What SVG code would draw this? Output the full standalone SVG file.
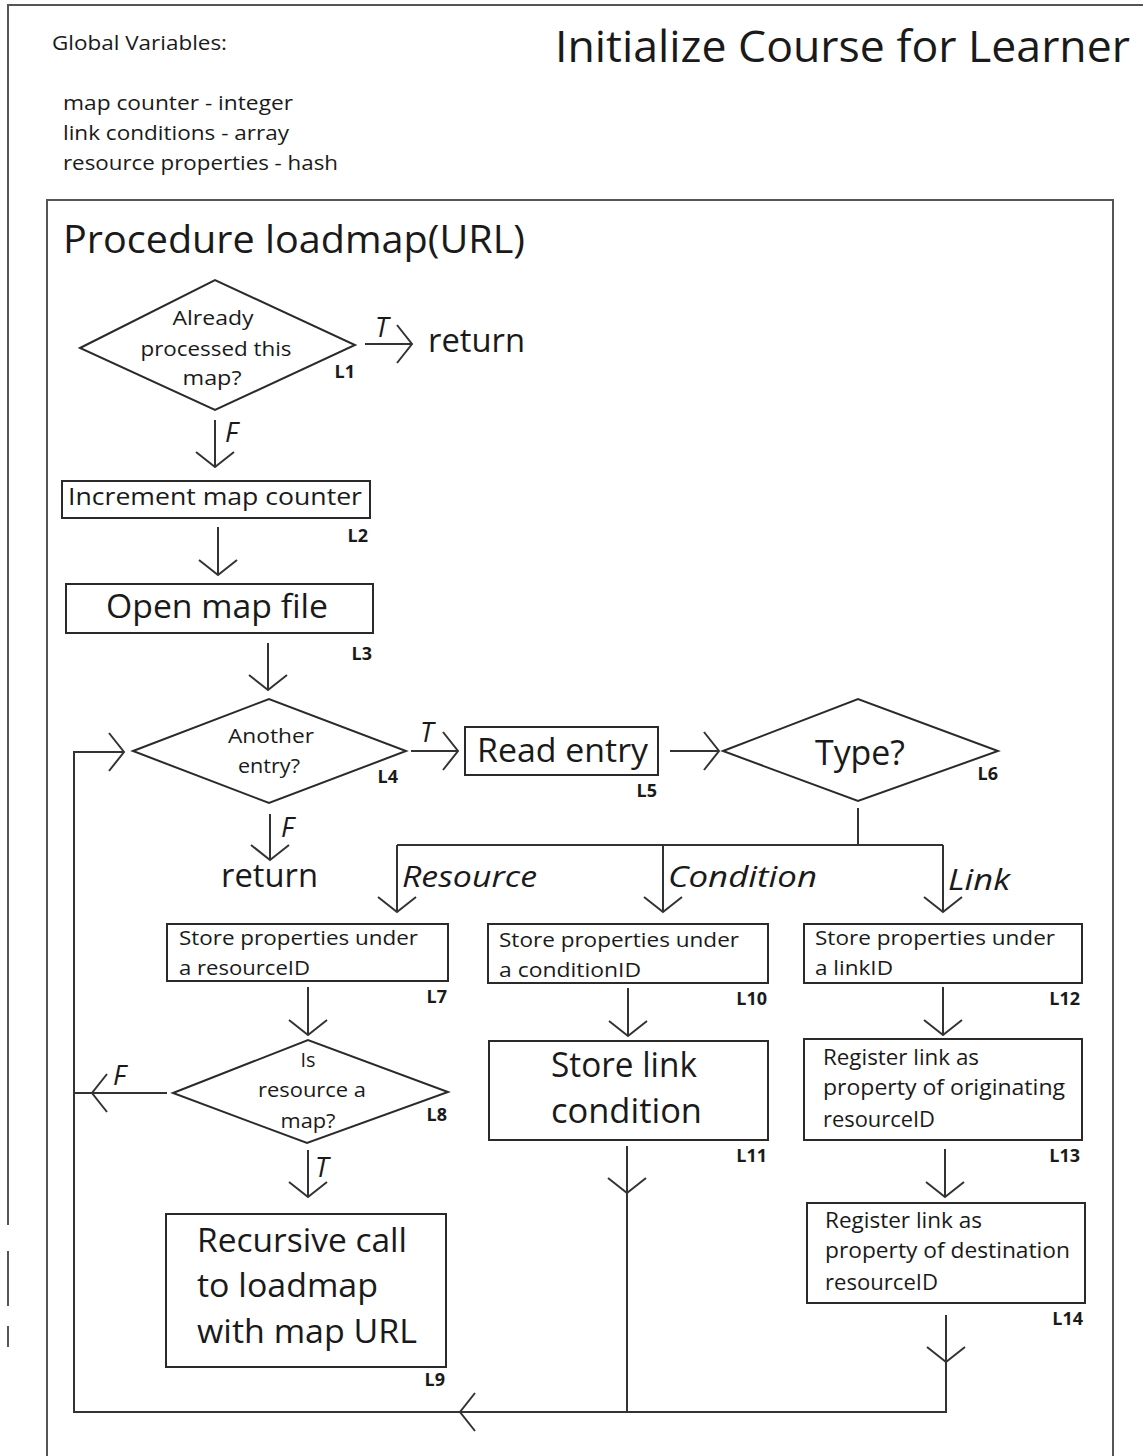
<svg xmlns="http://www.w3.org/2000/svg" width="1143" height="1456" viewBox="0 0 1143 1456">
<style>
text{font-family:"Open Sans","Noto Sans","DejaVu Sans",sans-serif;fill:#1a1a1a}
.shape{fill:none;stroke:#2a2a2a;stroke-width:2}
.frame{fill:none;stroke:#555;stroke-width:2}
.conn{fill:none;stroke:#333;stroke-width:2}
.t20{font-size:20px}
.t22{font-size:22px}
.t24{font-size:24px}
.t32{font-size:32px}
.t34{font-size:34px}
.it{font-style:italic;font-size:30px}
.lab{font-style:italic;font-size:27px}
.ln{font-size:18px;font-weight:bold;text-anchor:end}
.mid{text-anchor:middle}
</style>
<defs>
<marker id="arr" markerUnits="userSpaceOnUse" markerWidth="40" markerHeight="44" viewBox="-20 -22 40 44" refX="0" refY="0" orient="auto" overflow="visible">
<path d="M-15,-19 L0,0 L-15,19" fill="none" stroke="#333" stroke-width="2"/>
</marker>
</defs>
<rect width="1143" height="1456" fill="#fff"/>
<g id="frames">
<path class="frame" d="M1143,5 H8 V1225"/>
<path class="frame" d="M8,1251 V1306 M8,1326 V1347"/>
<path class="frame" d="M47,1456 V200 H1113 V1456"/>
</g>
<g id="header">
<text x="555" y="62" style="font-size:44px" textLength="575" lengthAdjust="spacingAndGlyphs">Initialize Course for Learner</text>
<text x="52" y="50" class="t20" textLength="175" lengthAdjust="spacingAndGlyphs">Global Variables:</text>
<text x="63" y="110" class="t20" textLength="230" lengthAdjust="spacingAndGlyphs">map counter - integer</text>
<text x="63" y="140" class="t20" textLength="226" lengthAdjust="spacingAndGlyphs">link conditions - array</text>
<text x="63" y="170" class="t20" textLength="275" lengthAdjust="spacingAndGlyphs">resource properties - hash</text>
<text x="63" y="253" style="font-size:38px" textLength="462" lengthAdjust="spacingAndGlyphs">Procedure loadmap(URL)</text>
</g>
<g id="connectors">
<path class="conn" d="M365,344 H412" marker-end="url(#arr)"/>
<path class="conn" d="M215,420 V467" marker-end="url(#arr)"/>
<path class="conn" d="M218,527 V575" marker-end="url(#arr)"/>
<path class="conn" d="M268,643 V690" marker-end="url(#arr)"/>
<path class="conn" d="M411,751 H458" marker-end="url(#arr)"/>
<path class="conn" d="M270,814 V860" marker-end="url(#arr)"/>
<path class="conn" d="M670,751 H719" marker-end="url(#arr)"/>
<path class="conn" d="M858,808 V845 M397,845 H943"/>
<path class="conn" d="M397,845 V912" marker-end="url(#arr)"/>
<path class="conn" d="M663,845 V912" marker-end="url(#arr)"/>
<path class="conn" d="M943,845 V912" marker-end="url(#arr)"/>
<path class="conn" d="M308,987 V1035" marker-end="url(#arr)"/>
<path class="conn" d="M167,1093 H92" marker-end="url(#arr)"/>
<path class="conn" d="M92,1093 H74"/>
<path class="conn" d="M308,1150 V1197" marker-end="url(#arr)"/>
<path class="conn" d="M628,988 V1036" marker-end="url(#arr)"/>
<path class="conn" d="M943,987 V1035" marker-end="url(#arr)"/>
<path class="conn" d="M945,1149 V1197" marker-end="url(#arr)"/>
<path class="conn" d="M627,1146 V1193" marker-end="url(#arr)"/>
<path class="conn" d="M627,1193 V1412"/>
<path class="conn" d="M946,1315 V1362" marker-end="url(#arr)"/>
<path class="conn" d="M946,1362 V1412 H460" marker-end="url(#arr)"/>
<path class="conn" d="M460,1412 H74 V752 H124" marker-end="url(#arr)"/>
<text x="375" y="337" class="lab">T</text>
<text x="225" y="442" class="lab">F</text>
<text x="420" y="742" class="lab">T</text>
<text x="281" y="837" class="lab">F</text>
<text x="113" y="1085" class="lab">F</text>
<text x="315" y="1177" class="lab">T</text>
<text x="428" y="352" class="t32" textLength="97" lengthAdjust="spacingAndGlyphs">return</text>
<text x="221" y="887" class="t32" textLength="97" lengthAdjust="spacingAndGlyphs">return</text>
<text x="402" y="887" class="it" textLength="135" lengthAdjust="spacingAndGlyphs">Resource</text>
<text x="668" y="887" class="it" textLength="149" lengthAdjust="spacingAndGlyphs">Condition</text>
<text x="948" y="890" class="it" textLength="62" lengthAdjust="spacingAndGlyphs">Link</text>
</g>
<g id="L1">
<polygon class="shape" points="80,348 215,280 355,345 215,410"/>
<text x="213" y="325" class="t20 mid" textLength="81" lengthAdjust="spacingAndGlyphs">Already</text>
<text x="216" y="356" class="t20 mid" textLength="151" lengthAdjust="spacingAndGlyphs">processed this</text>
<text x="212" y="385" class="t20 mid" textLength="59" lengthAdjust="spacingAndGlyphs">map?</text>
<text x="355" y="378" class="ln">L1</text>
</g>
<g id="L2">
<rect class="shape" x="62" y="481" width="308" height="37"/>
<text x="68" y="505" class="t24" textLength="294" lengthAdjust="spacingAndGlyphs">Increment map counter</text>
<text x="368" y="542" class="ln">L2</text>
</g>
<g id="L3">
<rect class="shape" x="66" y="584" width="307" height="49"/>
<text x="106" y="618" class="t32" textLength="222" lengthAdjust="spacingAndGlyphs">Open map file</text>
<text x="372" y="660" class="ln">L3</text>
</g>
<g id="L4">
<polygon class="shape" points="133,751 269,699 406,751 269,803"/>
<text x="271" y="743" class="t20 mid" textLength="86" lengthAdjust="spacingAndGlyphs">Another</text>
<text x="269" y="773" class="t20 mid" textLength="62" lengthAdjust="spacingAndGlyphs">entry?</text>
<text x="398" y="783" class="ln">L4</text>
</g>
<g id="L5">
<rect class="shape" x="465" y="727" width="193" height="48"/>
<text x="477" y="762" class="t32" textLength="171" lengthAdjust="spacingAndGlyphs">Read entry</text>
<text x="657" y="797" class="ln">L5</text>
</g>
<g id="L6">
<polygon class="shape" points="723,751 858,699 998,751 858,801"/>
<text x="815" y="765" class="t34" textLength="90" lengthAdjust="spacingAndGlyphs">Type?</text>
<text x="998" y="780" class="ln">L6</text>
</g>
<g id="L7">
<rect class="shape" x="167" y="924" width="281" height="57"/>
<text x="179" y="945" class="t20" textLength="239" lengthAdjust="spacingAndGlyphs">Store properties under</text>
<text x="179" y="975" class="t20" textLength="131" lengthAdjust="spacingAndGlyphs">a resourceID</text>
<text x="447" y="1003" class="ln">L7</text>
</g>
<g id="L8">
<polygon class="shape" points="173,1093 308,1040 448,1092 307,1143"/>
<text x="308" y="1067" class="t20 mid" textLength="15" lengthAdjust="spacingAndGlyphs">Is</text>
<text x="312" y="1097" class="t20 mid" textLength="108" lengthAdjust="spacingAndGlyphs">resource a</text>
<text x="308" y="1128" class="t20 mid" textLength="55" lengthAdjust="spacingAndGlyphs">map?</text>
<text x="447" y="1121" class="ln">L8</text>
</g>
<g id="L9">
<rect class="shape" x="166" y="1214" width="280" height="153"/>
<text x="197" y="1252" class="t32" textLength="210" lengthAdjust="spacingAndGlyphs">Recursive call</text>
<text x="197" y="1297" class="t32" textLength="181" lengthAdjust="spacingAndGlyphs">to loadmap</text>
<text x="197" y="1343" class="t32" textLength="220" lengthAdjust="spacingAndGlyphs">with map URL</text>
<text x="445" y="1386" class="ln">L9</text>
</g>
<g id="L10">
<rect class="shape" x="488" y="924" width="280" height="59"/>
<text x="499" y="947" class="t20" textLength="240" lengthAdjust="spacingAndGlyphs">Store properties under</text>
<text x="499" y="977" class="t20" textLength="142" lengthAdjust="spacingAndGlyphs">a conditionID</text>
<text x="767" y="1005" class="ln">L10</text>
</g>
<g id="L11">
<rect class="shape" x="489" y="1041" width="279" height="99"/>
<text x="551" y="1077" class="t34" textLength="146" lengthAdjust="spacingAndGlyphs">Store link</text>
<text x="551" y="1123" class="t34" textLength="151" lengthAdjust="spacingAndGlyphs">condition</text>
<text x="767" y="1162" class="ln">L11</text>
</g>
<g id="L12">
<rect class="shape" x="804" y="924" width="278" height="59"/>
<text x="815" y="945" class="t20" textLength="240" lengthAdjust="spacingAndGlyphs">Store properties under</text>
<text x="815" y="975" class="t20" textLength="78" lengthAdjust="spacingAndGlyphs">a linkID</text>
<text x="1080" y="1005" class="ln">L12</text>
</g>
<g id="L13">
<rect class="shape" x="804" y="1039" width="278" height="101"/>
<text x="823" y="1065" class="t22" textLength="156" lengthAdjust="spacingAndGlyphs">Register link as</text>
<text x="823" y="1095" class="t22" textLength="242" lengthAdjust="spacingAndGlyphs">property of originating</text>
<text x="823" y="1127" class="t22" textLength="112" lengthAdjust="spacingAndGlyphs">resourceID</text>
<text x="1080" y="1162" class="ln">L13</text>
</g>
<g id="L14">
<rect class="shape" x="807" y="1203" width="278" height="100"/>
<text x="825" y="1228" class="t22" textLength="157" lengthAdjust="spacingAndGlyphs">Register link as</text>
<text x="825" y="1258" class="t22" textLength="245" lengthAdjust="spacingAndGlyphs">property of destination</text>
<text x="825" y="1290" class="t22" textLength="113" lengthAdjust="spacingAndGlyphs">resourceID</text>
<text x="1083" y="1325" class="ln">L14</text>
</g>
</svg>
